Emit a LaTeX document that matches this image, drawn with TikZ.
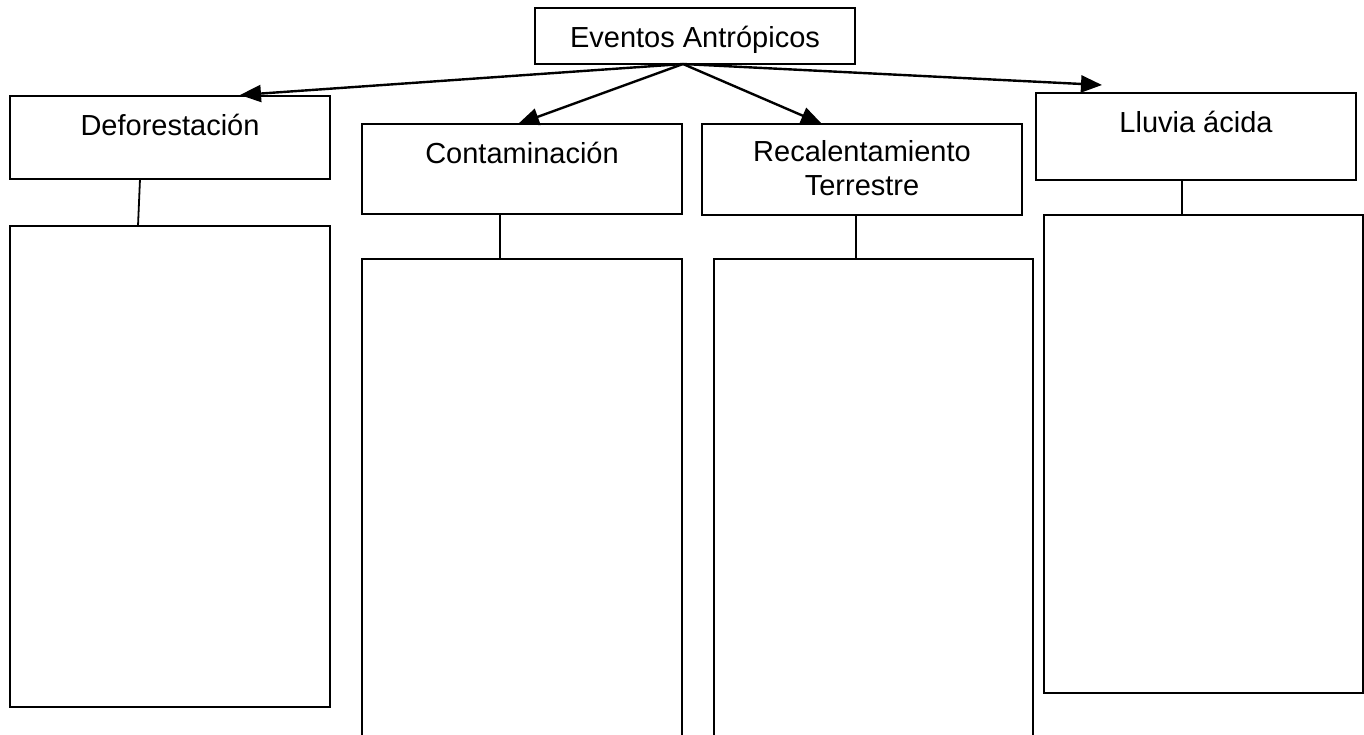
\documentclass[tikz,border=0pt]{standalone}
\usepackage{fontspec}
\setmainfont{Liberation Sans}
\usetikzlibrary{arrows.meta,positioning}

\begin{document}
\begin{tikzpicture}[x=1pt,y=-1pt,
	cajon/.style={draw,line width=2.4pt,anchor=north west,inner sep=0pt,outer sep=0pt},
	rotulo/.style={anchor=base,inner sep=0pt,align=center,font=\fontsize{29}{34}\selectfont},
	flecha/.style={line width=2.4pt,-{Triangle[length=21pt,width=17pt]}},
	enlace/.style={line width=1.8pt}]
	\useasboundingbox (0,0) rectangle (1364,734);
	\clip (0,0) rectangle (1364,734);
	% caja principal
	\node[cajon,minimum width=320pt,minimum height=56pt] (eventos) at (535,8) {};
	\node[rotulo] (eventosT) at ([yshift=-39pt]eventos.north) {Eventos Antrópicos};
	% cajas de los cuatro eventos
	\node[cajon,minimum width=320pt,minimum height=83pt] (defo) at (10,96) {};
	\node[cajon,minimum width=320pt,minimum height=90pt] (conta) at (362,124) {};
	\node[cajon,minimum width=320pt,minimum height=91pt] (recal) at (702,124) {};
	\node[cajon,minimum width=320pt,minimum height=87pt] (lluvia) at (1036,93) {};
	\node[rotulo] (defoT) at ([yshift=-39pt]defo.north) {Deforestación};
	\node[rotulo] (contaT) at ([yshift=-39pt]conta.north) {Contaminación};
	% la base es la de la segunda linea
	\node[rotulo] (recalT) at ([yshift=-71pt]recal.north) {Recalentamiento\\Terrestre};
	\node[rotulo] (lluviaT) at ([yshift=-39pt]lluvia.north) {Lluvia ácida};
	% cajas vacias de abajo
	\node[cajon,minimum width=320pt,minimum height=481pt] (defoB) at (10,226) {};
	\node[cajon,minimum width=320pt,minimum height=500pt] (contaB) at (362,259) {};
	\node[cajon,minimum width=319pt,minimum height=500pt] (recalB) at (714,259) {};
	\node[cajon,minimum width=319pt,minimum height=478pt] (lluviaB) at (1044,215) {};
	% flechas
	\coordinate (origen) at ([xshift=-12pt]eventos.south);
	\coordinate (pDefo) at ([xshift=70pt,yshift=1pt]defo.north);
	\coordinate (pConta) at ([xshift=-4pt]conta.north);
	\coordinate (pRecal) at ([xshift=-40pt]recal.north);
	\coordinate (pLluvia) at ([xshift=-94pt,yshift=8pt]lluvia.north);
	\foreach \p in {pDefo,pConta,pRecal,pLluvia}
		\draw[flecha] (origen) -- (\p);
	% lineas de union
	\draw[enlace] ([xshift=-30pt]defo.south) -- ([xshift=-32pt]defoB.north);
	\draw[enlace] ([xshift=-22pt]conta.south) -- ([xshift=-22pt]contaB.north);
	\draw[enlace] ([xshift=-6pt]recal.south) -- ([xshift=-17.5pt]recalB.north);
	\draw[enlace] ([xshift=-14pt]lluvia.south) -- ([xshift=-21.5pt]lluviaB.north);
\end{tikzpicture}
\end{document}
